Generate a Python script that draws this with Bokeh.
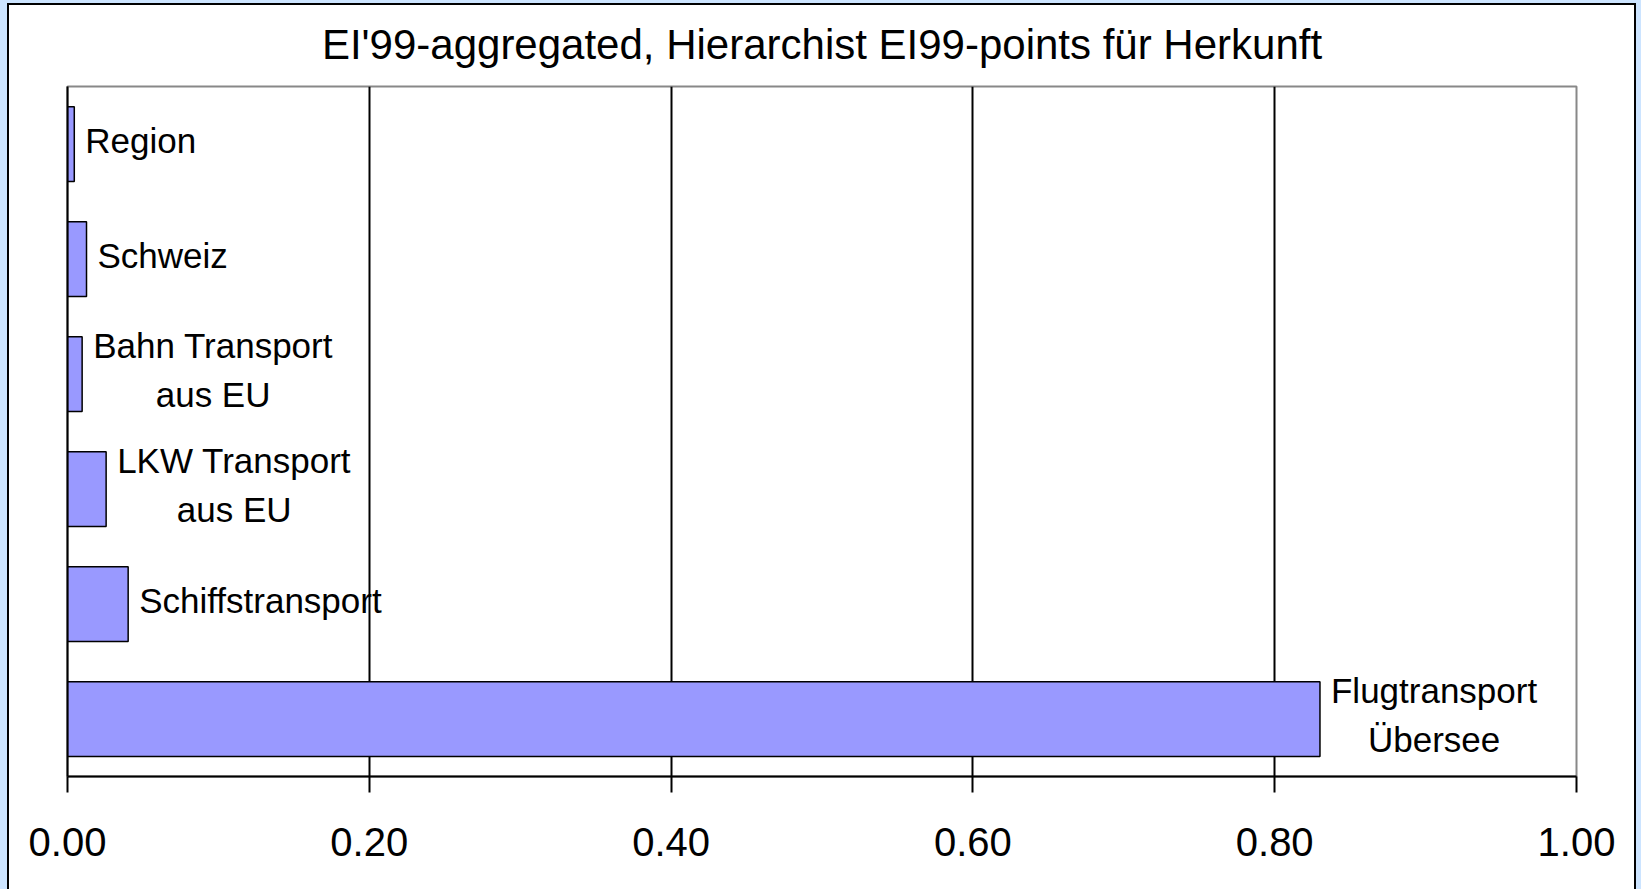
from bokeh.plotting import figure
from bokeh.models import Range1d, FixedTicker, PrintfTickFormatter, ColumnDataSource
from bokeh.core.properties import value
from bokeh.embed import file_html
from bokeh.resources import INLINE

# ---- data ----
categories = [
    "Region",
    "Schweiz",
    "Bahn Transport\naus EU",
    "LKW Transport\naus EU",
    "Schiffstransport",
    "Flugtransport\nÜbersee",
]
points = [0.0045, 0.0126, 0.0097, 0.0256, 0.0402, 0.830]
x_ticks = [0.0, 0.2, 0.4, 0.6, 0.8, 1.0]
grid_ticks = [0.2, 0.4, 0.6, 0.8]
title_text = "EI'99-aggregated, Hierarchist EI99-points für Herkunft"

FONT = "Liberation Sans"

src = ColumnDataSource(dict(cat=categories, val=points))

p = figure(
    width=1629, height=886,
    y_range=list(reversed(categories)),
    x_range=Range1d(0, 1.0),
    output_backend="svg", toolbar_location=None,
    min_border_left=60, min_border_right=60, min_border_top=83, min_border_bottom=113,
    background_fill_color="white", border_fill_color=None,
    title=title_text,
)
p.styles = {
    "margin-left": "7px",
    "margin-top": "3px",
    "background-color": "white",
    "box-shadow": "inset 2px 2px 0 0 #000, inset -2px 0 0 0 #000, 0 0 0 8px #cce4ff",
}

p.title.align = "center"
p.title.vertical_align = "top"
p.title.text_font = FONT
p.title.text_font_size = "42px"
p.title.text_font_style = "normal"
p.title.text_color = "black"
p.title.standoff = 33

p.hbar(y="cat", right="val", left=0, height=0.65, source=src,
       fill_color="#9999ff", line_color="black", line_width=1.5)

p.text(x="val", y="cat", text="cat", source=src,
       x_offset=11, y_offset=-4, anchor="center_left", text_align="center",
       text_baseline="middle", text_line_height=1.24,
       text_font=value(FONT), text_font_size="35px", text_color="black")

# outline of frame
p.outline_line_color = "#888888"
p.outline_line_width = 2

# grid
p.ygrid.visible = False
p.xgrid.ticker = FixedTicker(ticks=grid_ticks)
p.xgrid.grid_line_color = "black"
p.xgrid.grid_line_width = 2

# x axis
xa = p.xaxis[0]
xa.ticker = FixedTicker(ticks=x_ticks)
xa.formatter = PrintfTickFormatter(format="%.2f")
xa.axis_line_color = "black"
xa.axis_line_width = 2
xa.major_tick_line_color = "black"
xa.major_tick_line_width = 2
xa.major_tick_out = 16
xa.major_tick_in = 0
xa.minor_tick_line_color = None
xa.major_label_text_font = FONT
xa.major_label_text_font_size = "40px"
xa.major_label_text_color = "black"
xa.major_label_standoff = 35

# y axis: line only
ya = p.yaxis[0]
ya.axis_line_color = "black"
ya.axis_line_width = 2
ya.major_tick_line_color = None
ya.minor_tick_line_color = None
ya.major_label_text_font_size = "0px"
ya.major_label_text_color = None

open("out.html", "w").write(file_html(p, INLINE))
